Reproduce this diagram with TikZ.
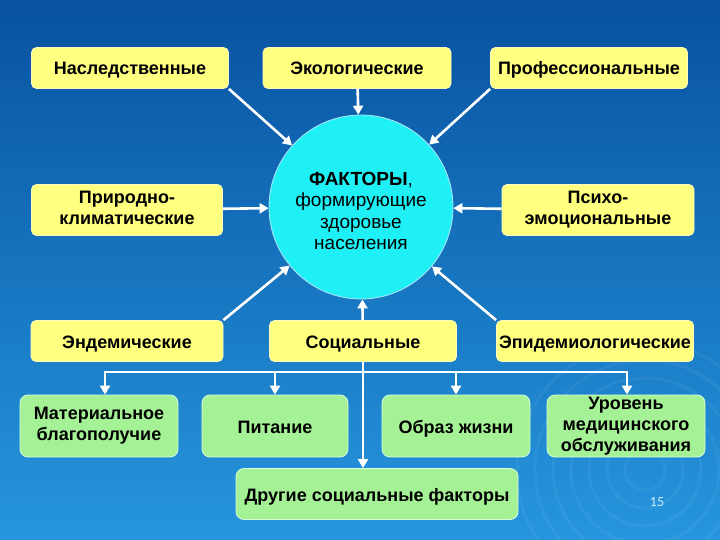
\documentclass[tikz,border=0pt]{standalone}
\usepackage{fontspec}
\setmainfont{Liberation Sans}
\newfontfamily\numfont{Carlito}
\usetikzlibrary{arrows.meta}

\definecolor{bgdark}{RGB}{8,82,160}
\definecolor{bgmid}{RGB}{12,94,176}
\definecolor{bglight}{RGB}{38,150,222}
\definecolor{boxyellow}{RGB}{255,255,128}
\definecolor{boxgreen}{RGB}{165,242,150}
\definecolor{hubcyan}{RGB}{30,240,245}

\begin{document}
\begin{tikzpicture}[x=1pt, y=-1pt,
    ybox/.style={draw=yellow!25!white, line width=0.8pt, fill=boxyellow, rounded corners=5pt,
        inner sep=0pt, minimum width=197pt, minimum height=41pt, align=center,
        font=\fontsize{18}{21.5}\selectfont\bfseries,
        execute at begin node=\rule{0pt}{18pt}, execute at end node=\rule[-4pt]{0pt}{4pt}},
    gbox/.style={draw=green!15!white, line width=0.8pt, fill=boxgreen, rounded corners=8pt,
        inner sep=0pt, minimum width=158pt, minimum height=62pt, align=center,
        font=\fontsize{18}{21}\selectfont\bfseries,
        execute at begin node=\rule{0pt}{18pt}, execute at end node=\rule[-4pt]{0pt}{4pt}},
    hub/.style={circle, draw=cyan!30!white, line width=0.8pt, fill=hubcyan, inner sep=0pt,
        minimum size=184pt},
    hubtext/.style={inner sep=0pt, align=center, font=\fontsize{19}{21.5}\selectfont},
    wline/.style={draw=white, line width=2.6pt},
    warrow/.style={wline, -{Triangle[length=9pt,width=10pt]}}]
    % Background
    \useasboundingbox (0,0) rectangle (720,540);
    \shade[top color=bgdark, middle color=bgmid, bottom color=bglight] (0,0) rectangle (720,540);
    \begin{scope}
        \clip (0,0) rectangle (720,540);
        \foreach \r in {20,38,...,130}
            \draw[white, opacity=0.05, line width=3pt] (645,470) circle (\r pt);
    \end{scope}

    % Factor boxes
    \node[ybox] (nasl) at (130,68) {Наследственные};
    \node[ybox, minimum width=188pt] (eko) at (357,68) {Экологические};
    \node[ybox] (prof) at (589,68) {Профессиональные};
    \node[ybox, minimum width=191pt, minimum height=51pt] (prir) at (127,210) {Природно-\\климатические};
    \node[ybox, minimum width=192pt, minimum height=51pt] (psych) at (598,210) {Психо-\\эмоциональные};
    \node[ybox, minimum width=192pt] (endem) at (127,341) {Эндемические};
    \node[ybox, minimum width=187pt] (soc) at (363,341) {Социальные};
    \node[ybox] (epid) at (595,341) {Эпидемиологические};

    % The central circle
    \node[hub] (fak) at (361,207) {};
    \node[hubtext] (fakText) at (361,211) {\textbf{ФАКТОРЫ},\\формирующие\\здоровье\\населения};

    % Arrows into the circle
    \draw[warrow] (nasl.south east) -- (fak);
    \draw[warrow] (eko) -- (fak);
    \draw[warrow] (prof.south west) -- (fak);
    \draw[warrow] (prir) -- (fak);
    \draw[warrow] (psych) -- (fak);
    \draw[warrow] (endem.north east) -- (fak);
    \draw[warrow] (soc) -- (fak);
    \draw[warrow] (epid.north west) -- (fak);

    % Social factors
    \node[gbox] (mat) at (99,426) {Материальное\\благополучие};
    \node[gbox, minimum width=146pt] (pit) at (275,426) {Питание};
    \node[gbox, minimum width=148pt] (obr) at (456,426) {Образ жизни};
    \node[gbox] (urov) at (626,426) {Уровень\\медицинского\\обслуживания};
    \node[gbox, minimum width=282pt, minimum height=51pt] (drug) at (377,494) {Другие социальные факторы};

    \coordinate (busL) at (105,372);
    \coordinate (busR) at (627,372);
    \draw[wline] (busL) -- (busR);
    \draw[warrow] (pit.north |- busL) -- (busL) -- (busL |- mat.north);
    \draw[warrow] (pit.north |- busL) -- (pit.north);
    \draw[warrow] (obr.north |- busR) -- (obr.north);
    \draw[warrow] (obr.north |- busR) -- (busR) -- (busR |- urov.north);
    \draw[warrow] (soc.south) -- (soc.south |- drug.north);

    % Page number
    \node[font=\numfont\fontsize{14}{14}\selectfont, text=white!80!cyan] (pnum) at (657,502) {15};
\end{tikzpicture}
\end{document}
